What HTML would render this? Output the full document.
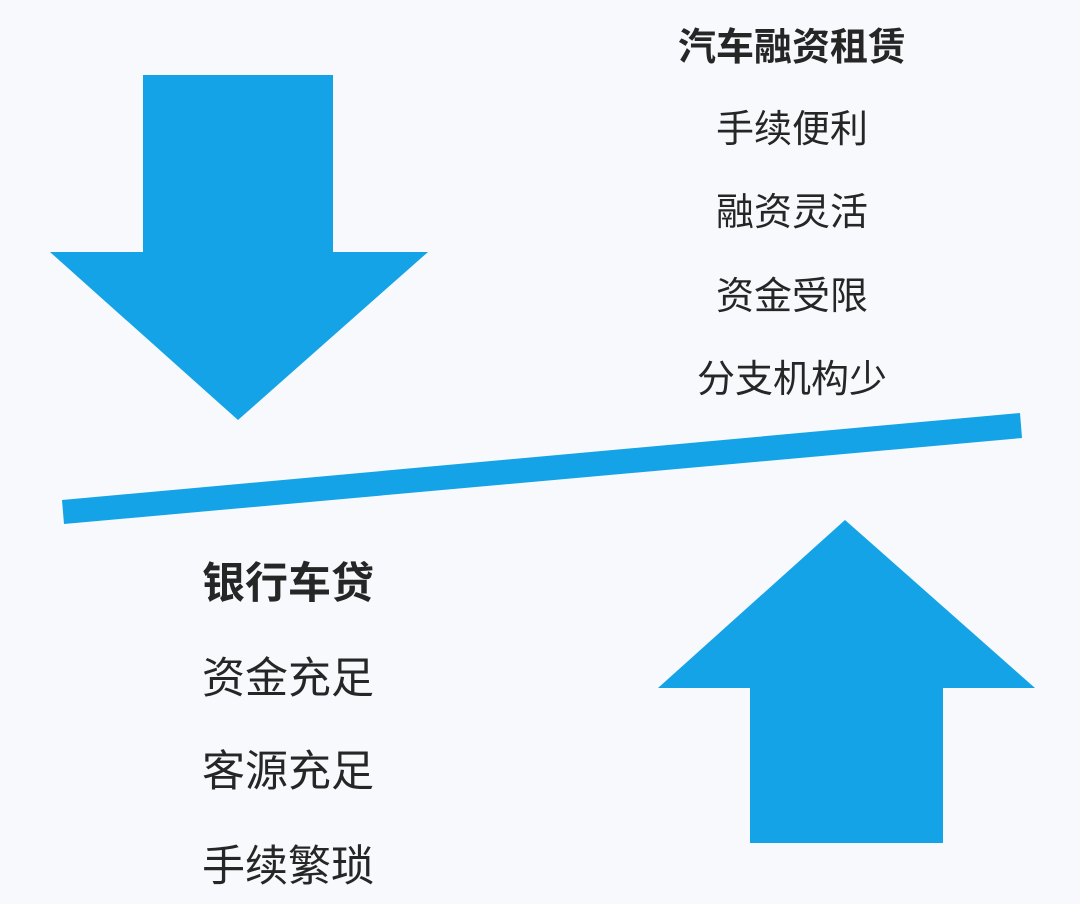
<!DOCTYPE html>
<html><head><meta charset="utf-8"><style>
body{margin:0;width:1080px;height:904px;background:#f7f9fc;position:relative;overflow:hidden;font-family:"Liberation Sans","Noto Sans CJK SC",sans-serif;color:#262626}
.t{position:absolute;font-size:38px;line-height:1;white-space:nowrap}
.c{transform:translateX(-50%)}
.b{font-weight:bold}
.l{font-size:43px}
</style></head><body>
<svg width="1080" height="904" style="position:absolute;left:0;top:0">
<polygon fill="#13a3e6" points="143,75 333,75 333,252 428,252 238,420 50,252 143,252"/>
<polygon fill="#13a3e6" points="62,500 1020,413 1022,438 64,524"/>
<polygon fill="#13a3e6" points="845,520 1035,688 943,688 943,843 750,843 750,688 658,688"/>
</svg>
<div class="t c b" style="left:792px;top:29px">汽车融资租赁</div>
<div class="t c" style="left:792px;top:111px">手续便利</div>
<div class="t c" style="left:792px;top:194px">融资灵活</div>
<div class="t c" style="left:792px;top:278px">资金受限</div>
<div class="t c" style="left:792px;top:361px">分支机构少</div>
<div class="t l b" style="left:202px;top:563px">银行车贷</div>
<div class="t l" style="left:202px;top:658px">资金充足</div>
<div class="t l" style="left:202px;top:751px">客源充足</div>
<div class="t l" style="left:202px;top:846px">手续繁琐</div>
</body></html>
